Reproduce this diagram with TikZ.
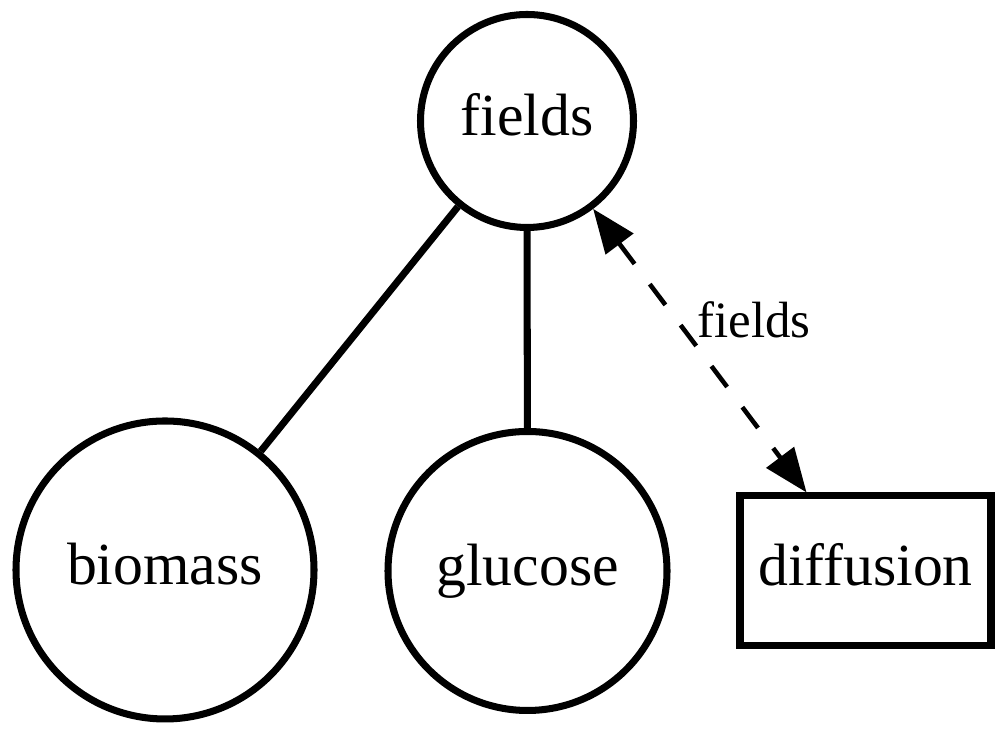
\documentclass[tikz,border=0pt]{standalone}
\usepackage{fontspec}
\setmainfont{Liberation Serif}
\usetikzlibrary{arrows.meta}
\begin{document}
\begin{tikzpicture}[>={Triangle[length=4.4mm,width=3.4mm]},
	state/.style={draw, circle, line width=2pt, inner sep=0pt, font=\fontsize{17}{20}\selectfont, text height=12pt, text depth=3.5pt},
	proc/.style={draw, rectangle, line width=2pt, minimum width=2.51cm, minimum height=1.5cm, inner sep=0pt, font=\fontsize{17}{20}\selectfont, text height=12pt, text depth=3.5pt},
	link/.style={line width=2pt},
	feed/.style={line width=1.3pt, dash pattern=on 7.4pt off 7.2pt}]

	\useasboundingbox (0,0) rectangle (10.07,7.37);
	\node [state, minimum size=2.13cm] (fields) at (5.27,6.16) {fields};
	\node [state, minimum size=2.98cm] (biomass) at (1.65,1.67) {biomass};
	\node [state, minimum size=2.79cm] (glucose) at (5.275,1.66) {glucose};
	\node [proc] (diffusion) at (8.655,1.66) {diffusion};
	\draw [link] (fields) -- (biomass);
	\draw [link] (fields) -- (glucose);
	\draw [feed, <->] (fields) -- node [pos=0.39, anchor=west, xshift=0.07cm, font=\fontsize{14.5}{17}\selectfont] (fieldslabel) {fields} (diffusion);

\end{tikzpicture}
\end{document}
